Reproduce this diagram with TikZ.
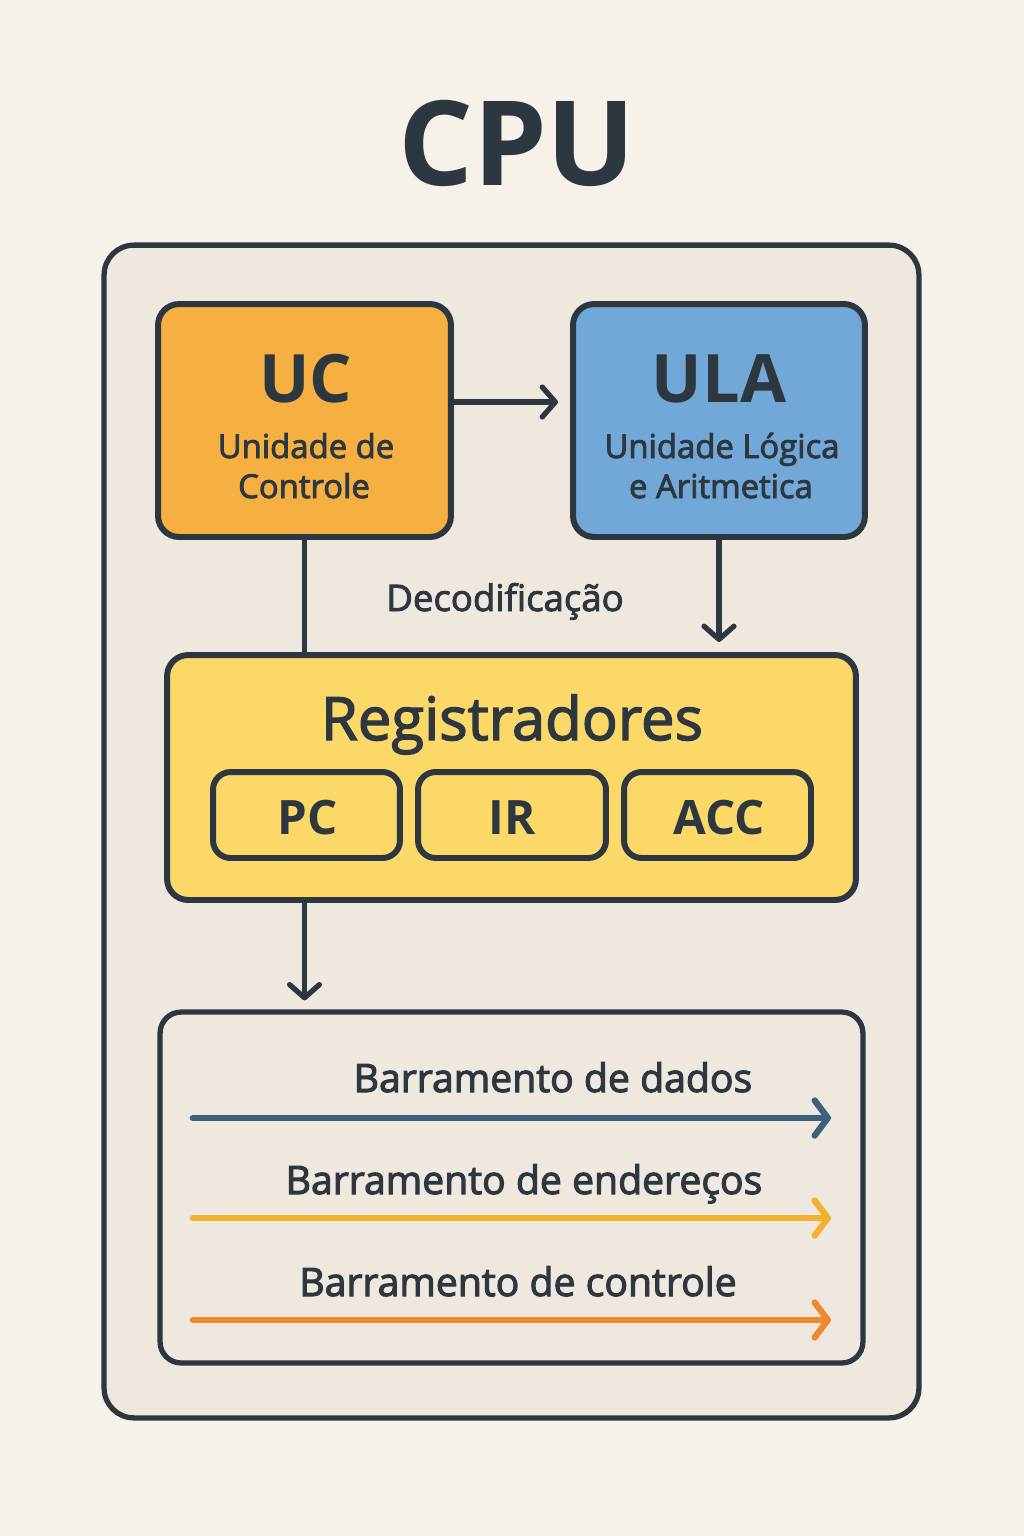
\documentclass[tikz,border=0pt]{standalone}
\usepackage{fontspec}
\setmainfont{Open Sans}
\usetikzlibrary{arrows.meta,calc}
\definecolor{bgc}{HTML}{F6F1E9}
\definecolor{panel}{HTML}{EFE8DF}
\definecolor{ink}{HTML}{2D3740}
\definecolor{ucc}{HTML}{F5B041}
\definecolor{ulac}{HTML}{72A8D8}
\definecolor{regc}{HTML}{FCD869}
\definecolor{busA}{HTML}{3F5F7E}
\definecolor{busB}{HTML}{F2B130}
\definecolor{busC}{HTML}{F08A30}
\newcommand\medtxt[2][0.5]{\special{pdf:literal direct 2 Tr #1 w}#2\special{pdf:literal direct 0 Tr}}
\tikzset{
  boxst/.style={draw=ink, line width=3.4pt, rounded corners=12pt, inner sep=0pt},
  txt/.style={text=ink, anchor=base, inner sep=0pt},
  conn/.style={draw=ink, line width=3pt, line cap=round, -{Straight Barb[length=7.5pt,width=17pt,line width=3pt,round]}},
  plainconn/.style={draw=ink, line width=3pt},
  busarrow/.style={line width=3.8pt, line cap=round, -{Straight Barb[length=7.5pt,width=20pt,line width=3.6pt,round]}},
}
\begin{document}
\begin{tikzpicture}[x=0.02cm,y=-0.02cm]
\fill[bgc] (0,0) rectangle (1024,1536);
\useasboundingbox (0,0) rectangle (1024,1536);
% title
\node[txt, font=\bfseries\fontsize{67}{80}\selectfont] (title) at (517,185) {CPU};
% outer
\node[boxst, fill=panel, line width=3pt, rounded corners=17pt, minimum width=16.3cm, minimum height=23.46cm] (cpu) at (511.5,831.5) {};
% UC
\node[boxst, fill=ucc, minimum width=5.86cm, minimum height=4.66cm] (uc) at (304.5,420.5) {};
\node[txt, font=\bfseries\fontsize{38}{46}\selectfont] (uct) at (306,402) {UC};
\node[txt, font=\fontsize{18.7}{22}\selectfont] (uc1) at (306,458) {\medtxt{Unidade de}};
\node[txt, font=\fontsize{18.7}{22}\selectfont] (uc2) at (304,498) {\medtxt{Controle}};
% ULA
\node[boxst, fill=ulac, minimum width=5.84cm, minimum height=4.66cm] (ula) at (719,420.5) {};
\node[txt, font=\bfseries\fontsize{38}{46}\selectfont] (ulat) at (719,402) {ULA};
\node[txt, font=\fontsize{18.7}{22}\selectfont] (ula1) at (722,458) {\medtxt{Unidade Lógica}};
\node[txt, font=\fontsize{18.7}{22}\selectfont] (ula2) at (721,498) {\medtxt{e Aritmetica}};
% Registers
\node[boxst, fill=regc, minimum width=13.78cm, minimum height=4.9cm] (reg) at (511.5,777.5) {};
\node[txt, font=\fontsize{34}{40}\selectfont] (regt) at (512,740) {\medtxt[0.8]{Registradores}};
\node[boxst, fill=regc, rounded corners=10pt, minimum width=3.74cm, minimum height=1.72cm] (pc) at (306.5,815) {};
\node[boxst, fill=regc, rounded corners=10pt, minimum width=3.76cm, minimum height=1.72cm] (ir) at (512,815) {};
\node[boxst, fill=regc, rounded corners=10pt, minimum width=3.74cm, minimum height=1.72cm] (acc) at (717.5,815) {};
\node[txt, font=\bfseries\fontsize{27}{32}\selectfont] (pct) at (308,834) {PC};
\node[txt, font=\bfseries\fontsize{27}{32}\selectfont] (irt) at (512,834) {IR};
\node[txt, font=\bfseries\fontsize{27}{32}\selectfont] (acct) at (719,834) {ACC};
% Decodificacao
\node[txt, font=\fontsize{20.8}{24}\selectfont] (dec) at (505,611) {\medtxt{Decodificação}};
% Bus
\node[boxst, fill=panel, line width=3pt, minimum width=14.06cm, minimum height=7.02cm] (bus) at (511.5,1187.5) {};
\node[txt, font=\fontsize{22.3}{26}\selectfont] (busat) at (553,1092) {\medtxt[0.6]{Barramento de dados}};
\node[txt, font=\fontsize{22.3}{26}\selectfont] (busbt) at (524,1194) {\medtxt[0.6]{Barramento de endereços}};
\node[txt, font=\fontsize{22.3}{26}\selectfont] (busct) at (518,1296) {\medtxt[0.6]{Barramento de controle}};
\coordinate (a1) at (193,1118); \coordinate (a2) at (831,1118);
\coordinate (b1) at (193,1218); \coordinate (b2) at (831,1218);
\coordinate (c1) at (193,1320); \coordinate (c2) at (831,1320);
\draw[busarrow, busA] (a1) -- (a2);
\draw[busarrow, busB] (b1) -- (b2);
\draw[busarrow, busC] (c1) -- (c2);
% connectors
\draw[conn, shorten >=0.24cm] ([yshift=0.37cm]uc.east) -- ([yshift=0.37cm]uc.east -| ula.west);
\draw[plainconn] (uc.south) -- (uc.south |- reg.north);
\draw[conn, shorten >=0.2cm] (ula.south) -- (ula.south |- reg.north);
\draw[conn, shorten >=0.18cm] (reg.south -| uc.south) -- (uc.south |- bus.north);
\end{tikzpicture}
\end{document}
